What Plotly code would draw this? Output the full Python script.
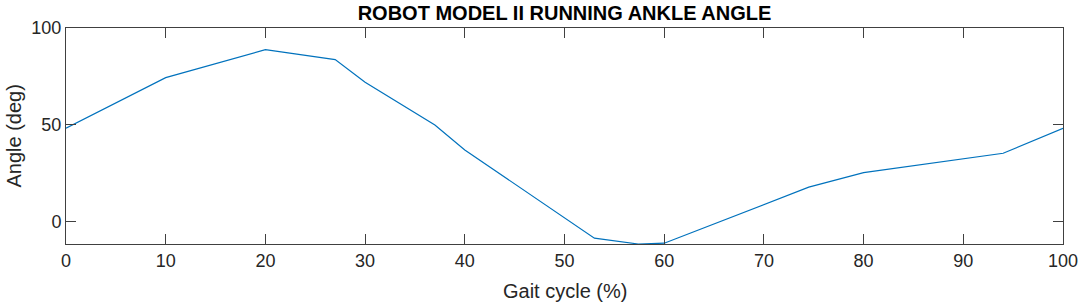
import plotly.graph_objects as go

gait_cycle = [0, 10, 20, 27, 30, 37, 40, 50, 53, 57.4, 60, 74.5, 80, 94, 100]
ankle_angle = [48.3, 74.4, 88.8, 83.7, 72.0, 50.0, 37.1, 1.9, -8.4, -11.4, -11.0, 17.9, 25.4, 35.4, 48.3]

x_ticks = [0, 10, 20, 30, 40, 50, 60, 70, 80, 90, 100]
y_ticks = [0, 50, 100]

axis_color = "#404040"
text_color = "#262626"
font_family = "Liberation Sans, Arial, sans-serif"

W, H = 1084, 308
L, R, T, B = 66, 21, 28, 64
plot_w = W - L - R
plot_h = H - T - B

fig = go.Figure()
fig.add_trace(go.Scatter(
    x=gait_cycle, y=ankle_angle, mode="lines",
    line=dict(color="#0072BD", width=1.2),
    showlegend=False,
))

fig.update_layout(
    width=W, height=H,
    margin=dict(l=L, r=R, t=T, b=B),
    paper_bgcolor="white", plot_bgcolor="white",
    font=dict(family=font_family, color=text_color, size=18),
    title=dict(
        text="<b>ROBOT MODEL II RUNNING ANKLE ANGLE</b>",
        x=0.5, xref="paper", xanchor="center",
        y=1 - 12.5 / H, yref="container", yanchor="middle",
        font=dict(family=font_family, size=20, color="#000000"),
    ),
    annotations=[
        dict(text="Gait cycle (%)", xref="paper", yref="paper",
             x=0.5, y=-(291 - (T + plot_h)) / plot_h, xanchor="center", yanchor="middle",
             showarrow=False, font=dict(size=20, color=text_color)),
        dict(text="Angle (deg)", xref="paper", yref="paper",
             x=(13.5 - L) / plot_w, y=0.5, xanchor="center", yanchor="middle",
             textangle=-90, showarrow=False, font=dict(size=20, color=text_color)),
    ],
)

fig.update_xaxes(
    range=[0, 100], tickvals=x_ticks, automargin=False,
    ticks="inside", ticklen=10, tickcolor=axis_color, tickwidth=1,
    showline=True, linecolor=axis_color, linewidth=1, mirror="ticks",
    showgrid=False, zeroline=False,
    tickfont=dict(size=18, color=text_color),
)
fig.update_yaxes(
    range=[-11.4, 100], tickvals=y_ticks, automargin=False,
    ticks="inside", ticklen=10, tickcolor=axis_color, tickwidth=1,
    showline=True, linecolor=axis_color, linewidth=1, mirror="ticks",
    showgrid=False, zeroline=False,
    tickfont=dict(size=18, color=text_color),
)

fig.write_html(
    "out.html",
    config={"displayModeBar": False},
    post_script="document.body.style.margin='0';document.body.style.overflow='hidden';",
)
